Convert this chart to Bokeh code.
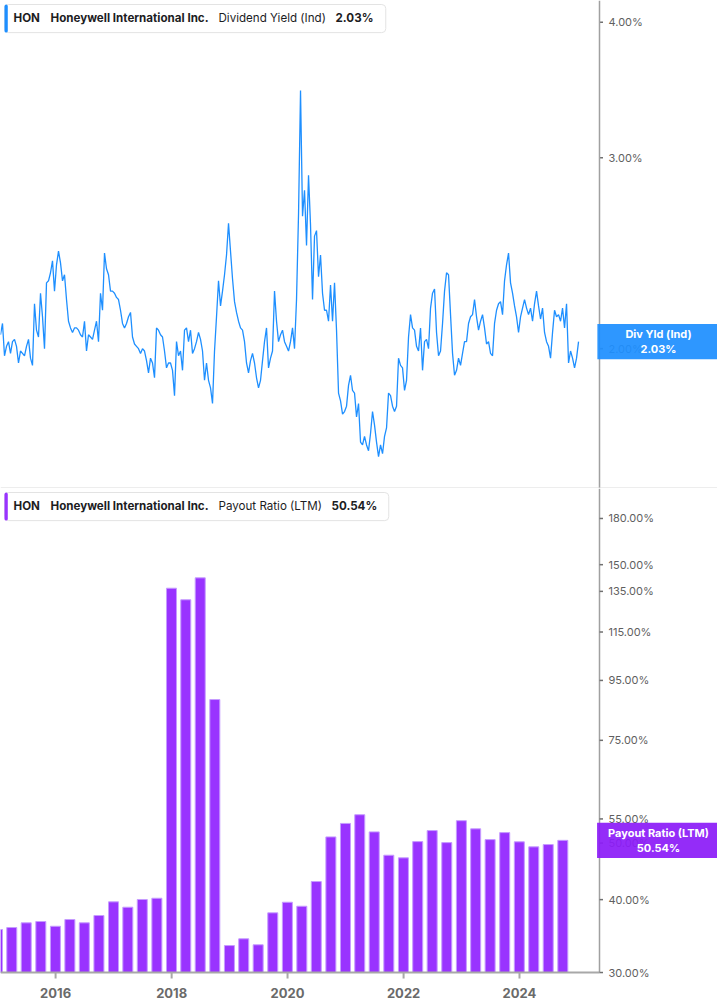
import numpy as np
import pandas as pd
from bokeh.plotting import figure
from bokeh.models import Range1d, Label, Span, ColumnDataSource
from bokeh.core.properties import value
from bokeh.layouts import column
from bokeh.embed import file_html
from bokeh.resources import INLINE

# ---------------- data ----------------
ticker_symbol = "HON"
company_name = "Honeywell International Inc."
yield_title = "Dividend Yield (Ind)"
yield_last_text = "2.03%"
payout_title = "Payout Ratio (LTM)"
payout_last_text = "50.54%"

# dividend yield (%) sampled evenly between these two dates
yield_first_date = "2015-01-19"
yield_last_date = "2025-01-07"
yield_pct = [
    2.06, 2.11, 1.97, 2.01, 2.03, 1.98, 2.03, 2.04, 2.01, 1.94,
    1.99, 1.98, 1.97, 2.01, 2.04, 1.96, 1.93, 2.20, 2.08, 2.05,
    2.25, 2.14, 2.00, 2.30, 2.31, 2.35, 2.41, 2.26, 2.39, 2.46,
    2.40, 2.31, 2.34, 2.22, 2.12, 2.09, 2.07, 2.09, 2.09, 2.08,
    2.06, 2.05, 2.12, 1.99, 2.06, 2.05, 2.04, 2.08, 2.12, 2.03,
    2.25, 2.17, 2.45, 2.37, 2.34, 2.26, 2.26, 2.25, 2.23, 2.22,
    2.17, 2.11, 2.09, 2.11, 2.14, 2.16, 2.05, 2.02, 2.01, 2.00,
    1.98, 2.00, 1.99, 1.95, 1.90, 1.96, 1.94, 1.88, 2.09, 2.08,
    2.06, 2.05, 1.99, 1.92, 1.94, 1.94, 1.91, 1.81, 2.03, 1.97,
    1.99, 1.91, 2.08, 2.09, 2.03, 2.08, 1.98, 2.00, 2.03, 2.07,
    2.04, 1.99, 1.87, 1.94, 1.87, 1.84, 1.78, 1.99, 2.14, 2.31,
    2.19, 2.26, 2.34, 2.44, 2.61, 2.46, 2.32, 2.21, 2.16, 2.12,
    2.09, 2.08, 2.03, 1.94, 1.90, 1.95, 1.98, 1.94, 1.88, 1.84,
    1.87, 1.95, 2.03, 2.09, 1.92, 1.96, 1.99, 2.26, 2.12, 2.03,
    2.06, 2.08, 2.03, 2.01, 1.99, 2.03, 2.09, 2.00, 2.22, 2.66,
    3.46, 2.65, 2.80, 2.49, 2.89, 2.60, 2.22, 2.54, 2.57, 2.33,
    2.44, 2.25, 2.17, 2.17, 2.12, 2.29, 2.12, 2.30, 2.08, 1.82,
    1.79, 1.74, 1.75, 1.77, 1.85, 1.89, 1.83, 1.82, 1.73, 1.78,
    1.64, 1.63, 1.66, 1.63, 1.61, 1.67, 1.75, 1.70, 1.64, 1.59,
    1.63, 1.60, 1.66, 1.69, 1.82, 1.81, 1.77, 1.75, 1.77, 1.96,
    1.93, 1.92, 1.83, 1.87, 2.05, 2.15, 2.09, 2.08, 2.01, 1.99,
    2.09, 1.91, 2.03, 2.04, 2.00, 2.18, 2.25, 2.27, 2.07, 1.97,
    1.99, 2.11, 2.26, 2.35, 2.34, 2.15, 1.98, 1.89, 1.91, 1.96,
    1.93, 1.98, 2.03, 2.03, 2.11, 2.14, 2.15, 2.22, 2.14, 2.08,
    2.12, 2.15, 2.09, 2.02, 2.03, 1.98, 1.97, 2.11, 2.17, 2.20,
    2.21, 2.15, 2.31, 2.39, 2.45, 2.30, 2.25, 2.19, 2.14, 2.07,
    2.14, 2.18, 2.22, 2.18, 2.15, 2.18, 2.12, 2.20, 2.26, 2.19,
    2.13, 2.18, 2.07, 2.03, 2.01, 1.96, 2.07, 2.17, 2.14, 2.15,
    2.12, 2.18, 2.09, 2.20, 1.94, 1.99, 1.96, 1.92, 1.96, 2.03,
]

# payout ratio (LTM, %) by quarter end, starting with this quarter
payout_first_quarter = "2014-12-31"
payout_pct = [
    35.55, 35.83, 36.50, 36.69, 36.01, 36.98, 36.50, 37.57,
    39.65, 38.82, 40.02, 40.22, 136.7, 130.6, 142.4, 88.1,
    33.37, 34.27, 33.47, 37.97, 39.59, 38.97, 42.96, 51.23,
    54.03, 55.92, 52.26, 47.66, 47.17, 50.29, 52.53, 50.09,
    54.62, 52.89, 50.69, 52.11, 50.25, 49.26, 49.71, 50.54,
]

yield_ticks = [2.0, 3.0, 4.0]
yield_range = [1.486, 4.19]
payout_ticks = [30, 40, 50, 55, 75, 95, 115, 135, 150, 180]
payout_range = [26.34, 202.6]     # includes the date-label strip below 30%
payout_base = 30
year_ticks = ["2016-01-01", "2018-01-01", "2020-01-01", "2022-01-01", "2024-01-01"]
year_labels = ["2016", "2018", "2020", "2022", "2024"]
x_window = ["2015-01-19", "2025-05-19"]   # left edge .. value axis position

# ---------------- layout constants ----------------
BLUE = "#1E8FFF"
PURPLE = "#9933FF"
PURPLE_BOX = "#8C1CF7"
FONT = "Inter"
W = 717
RIGHT = 118
FW = W - RIGHT
H1 = 488
H2 = 517


def ms(s):
    return pd.Timestamp(s).value / 1e6


t0, t1 = ms(yield_first_date), ms(yield_last_date)
yield_x = np.linspace(t0, t1, len(yield_pct))
try:
    qdates = pd.date_range(payout_first_quarter, periods=len(payout_pct), freq="QE")
except Exception:
    qdates = pd.date_range(payout_first_quarter, periods=len(payout_pct), freq="Q")
payout_x = qdates.values.astype("datetime64[ms]").astype(np.int64).astype(float)

x_left, x_axis = ms(x_window[0]), ms(x_window[1])
ms_per_px = (x_axis - x_left) / FW
x_range = Range1d(x_left, x_left + ms_per_px * W)

# log-scale step per pixel in the lower panel
k2 = np.log(payout_range[1] / payout_range[0]) / H2


def below_base(px):
    return payout_base * np.exp(-px * k2)


def value_axis(p, ticks, y_from=None, y_to=None):
    if y_from is None:
        p.add_layout(Span(location=x_axis, dimension="height",
                          line_color="#a0a0a0", line_width=1.5))
    else:
        p.segment(x0=[x_axis], y0=[y_from], x1=[x_axis], y1=[y_to],
                  line_color="#a0a0a0", line_width=1.5)
    src = ColumnDataSource(dict(
        x0=[x_axis] * len(ticks), x1=[x_axis + 3.5 * ms_per_px] * len(ticks),
        xt=[x_axis + 9 * ms_per_px] * len(ticks), y=ticks,
        t=["%.2f%%" % t for t in ticks]))
    p.segment("x0", "y", "x1", "y", source=src, line_color="#707070",
              line_width=1.5)
    p.text("xt", "y", text="t", source=src, text_font=value(FONT),
           text_font_size=value("11px"), text_color="#5f5f5f",
           text_baseline="middle", text_align="left")


def box(p, fh, left, top, w, h, fill, line=None, radius=0, alpha=1.0):
    p.add_layout(Label(x=left, y=fh - top, x_units="screen", y_units="screen",
                       text=" ", text_font_size="1px", text_align="left",
                       text_baseline="top",
                       background_fill_color=fill, background_fill_alpha=alpha,
                       border_line_color=line, border_line_width=1,
                       border_radius=radius,
                       padding=dict(left=0, right=w, top=h // 2,
                                    bottom=h - h // 2)))


def header(p, fh, accent, metric, last, last_x, box_w):
    box(p, fh, 4, 4, box_w, 27, "white", line="#e3e3e3", radius=4)
    box(p, fh, 4, 4, 3, 27, accent, radius=2)
    parts = [(ticker_symbol, 13, "bold"), (company_name, 50, "bold"),
             (metric, 218, "normal"), (last, last_x, "bold")]
    for txt, x, wgt in parts:
        p.add_layout(Label(x=x, y=fh - 17.5, x_units="screen", y_units="screen",
                           text=txt, text_font=FONT, text_font_size="11.6px",
                           text_font_style=wgt, text_color="#1d1d1f",
                           text_align="left", text_baseline="middle"))


def side_tag(p, val, txt, fill, padx):
    p.add_layout(Label(x=FW + RIGHT / 2, y=val, x_units="screen",
                       y_units="data", text=txt, text_font=FONT,
                       text_font_size="11px", text_font_style="bold",
                       text_color="white", text_align="center",
                       text_baseline="middle", text_line_height=1.1,
                       background_fill_color=fill, background_fill_alpha=0.93,
                       padding=dict(left=padx, right=padx, top=3, bottom=3)))


def base_fig(height, yr):
    p = figure(width=W, height=height, x_axis_type="datetime",
               y_axis_type="log", x_range=x_range,
               y_range=Range1d(*yr), y_axis_location=None,
               x_axis_location=None,
               output_backend="svg", toolbar_location=None,
               min_border_left=0, min_border_right=0, min_border_top=0,
               min_border_bottom=0)
    p.grid.visible = False
    p.outline_line_color = None
    p.background_fill_color = "white"
    p.border_fill_color = "white"
    return p


# ---------------- top panel: dividend yield ----------------
p1 = base_fig(H1, yield_range)
src1 = ColumnDataSource(dict(x=yield_x, y=yield_pct))
p1.line("x", "y", source=src1, line_color=BLUE, line_width=1.3)
value_axis(p1, yield_ticks)
p1.add_layout(Span(location=yield_range[0], dimension="width",
                   line_color="#dcdcdc", line_width=2))
header(p1, H1, BLUE, yield_title, yield_last_text, 335, 381)
side_tag(p1, yield_pct[-1], "Div Yld (Ind)\n" + yield_last_text, BLUE, 28)

# ---------------- bottom panel: payout ratio ----------------
p2 = base_fig(H2, payout_range)
src2 = ColumnDataSource(dict(x=payout_x, top=payout_pct))
p2.vbar(x="x", top="top", bottom=payout_base, width=63 * 86400000,
        source=src2, fill_color=PURPLE, line_color="#c69cff", line_width=1)

# date axis drawn inside the frame
year_x = [ms(t) for t in year_ticks]
src_years = ColumnDataSource(dict(
    x=year_x, y0=[payout_base] * len(year_x),
    y1=[below_base(6)] * len(year_x), yl=[below_base(20)] * len(year_x),
    t=year_labels))
p2.segment(x0=[x_left], y0=[payout_base], x1=[x_axis], y1=[payout_base],
           line_color="#a8a8a8", line_width=2)
p2.segment("x", "y0", "x", "y1", source=src_years, line_color="#a8a8a8",
           line_width=2)
p2.text("x", "yl", text="t", source=src_years, text_font=value(FONT),
        text_font_size=value("13px"), text_font_style="bold",
        text_color="#6a6a6a", text_align="center", text_baseline="middle")

value_axis(p2, payout_ticks, payout_base, payout_range[1])
header(p2, H2, PURPLE, payout_title, payout_last_text, 331, 384)
side_tag(p2, payout_pct[-1], "Payout Ratio (LTM)\n" + payout_last_text,
         PURPLE_BOX, 11)

layout = column(p1, p2, spacing=0)
open("out.html", "w").write(file_html(layout, INLINE))
